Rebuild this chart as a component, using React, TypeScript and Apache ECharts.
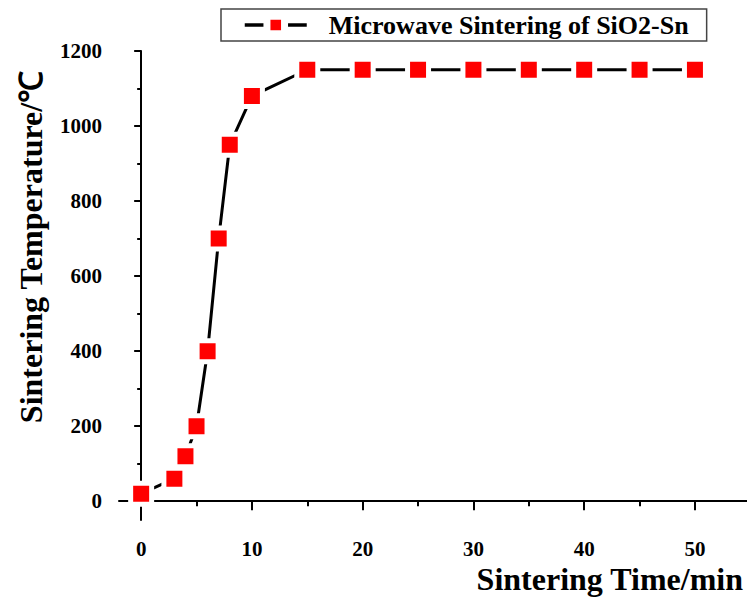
import React, { useEffect, useRef } from "react";
import * as echarts from "echarts";

const times = [0, 3, 4, 5, 6, 7, 8, 10, 15, 20, 25, 30, 35, 40, 45, 50];
const temps = [20, 60, 120, 200, 400, 700, 950, 1080, 1150, 1150, 1150, 1150, 1150, 1150, 1150, 1150];
const xMajor = [0, 10, 20, 30, 40, 50];
const xMinor = [5, 15, 25, 35, 45];
const yMajor = [0, 200, 400, 600, 800, 1000, 1200];
const yMinor = [100, 300, 500, 700, 900, 1100];
const seriesName = "Microwave Sintering of SiO2-Sn";
const xTitle = "Sintering Time/min";
const yTitle = "Sintering Temperature/℃";

const FONT = "'Liberation Serif', 'Times New Roman', serif";

export default function App() {
  const ref = useRef<HTMLDivElement>(null);
  useEffect(() => {
    if (!ref.current) return;
    const chart = echarts.init(ref.current, null, { renderer: "svg" });
    const X_MIN = -2, X_MAX = 54.7, Y_MIN = -50, Y_MAX = 1200;
    const axisLine = { show: true, lineStyle: { color: "#000", width: 2 } };
    const plain = (v: number) => String(v);
    chart.setOption({
      animation: false,
      backgroundColor: "#fff",
      grid: { left: 119, right: 0, top: 51, bottom: 78, containLabel: false },
      legend: {
        left: 221,
        top: 9,
        data: [seriesName],
        itemWidth: 62,
        itemHeight: 22,
        padding: [3, 18, 3, 22],
        borderColor: "#444",
        borderWidth: 1.5,
        itemStyle: { borderColor: "#fff", borderWidth: 7 },
        lineStyle: { width: 3.5 },
        textStyle: {
          fontFamily: FONT,
          fontWeight: "bold",
          fontSize: 26,
          color: "#000",
          padding: [0, 0, 0, 17],
        },
      },
      xAxis: [
        {
          type: "value",
          min: X_MIN,
          max: X_MAX,
          position: "bottom",
          axisLine,
          axisTick: { show: true, inside: false, length: 9, customValues: xMajor, lineStyle: { color: "#000", width: 2 } },
          axisLabel: {
            show: true,
            customValues: xMajor,
            formatter: plain,
            margin: 18,
            fontFamily: FONT,
            fontWeight: "bold",
            fontSize: 21,
            color: "#000",
          },
          splitLine: { show: false },
        },
        {
          type: "value",
          min: X_MIN,
          max: X_MAX,
          position: "bottom",
          axisLine: { show: false },
          axisTick: { show: true, inside: false, length: 5, customValues: xMinor, lineStyle: { color: "#000", width: 2 } },
          axisLabel: { show: false },
          splitLine: { show: false },
        },
      ],
      yAxis: [
        {
          type: "value",
          min: Y_MIN,
          max: Y_MAX,
          position: "left",
          axisLine,
          axisTick: { show: true, inside: false, length: 7, customValues: yMajor, lineStyle: { color: "#000", width: 2 } },
          axisLabel: {
            show: true,
            customValues: yMajor,
            formatter: plain,
            margin: 17,
            fontFamily: FONT,
            fontWeight: "bold",
            fontSize: 21,
            color: "#000",
          },
          splitLine: { show: false },
        },
        {
          type: "value",
          min: Y_MIN,
          max: Y_MAX,
          position: "left",
          axisLine: { show: false },
          axisTick: { show: true, inside: false, length: 4, customValues: yMinor, lineStyle: { color: "#000", width: 2 } },
          axisLabel: { show: false },
          splitLine: { show: false },
        },
      ],
      graphic: [
        {
          type: "text",
          x: 31,
          y: 247,
          rotation: Math.PI / 2,
          style: {
            text: yTitle,
            fontFamily: FONT,
            fontWeight: "bold",
            fontSize: 32,
            fill: "#000",
            textAlign: "center",
            textVerticalAlign: "middle",
          },
        },
        {
          type: "text",
          x: 743,
          y: 579,
          style: {
            text: xTitle,
            fontFamily: FONT,
            fontWeight: "bold",
            fontSize: 32,
            fill: "#000",
            textAlign: "right",
            textVerticalAlign: "middle",
          },
        },
      ],
      series: [
        {
          name: seriesName,
          type: "line",
          xAxisIndex: 0,
          yAxisIndex: 0,
          data: times.map((t, i) => [t, temps[i]]),
          symbol: "rect",
          symbolSize: 21,
          lineStyle: { color: "#000", width: 3 },
          itemStyle: { color: "#ff0000", borderColor: "#fff", borderWidth: 5 },
          z: 3,
        },
      ],
    });
    return () => chart.dispose();
  }, []);
  return (
    <div
      ref={ref}
      style={{ position: "fixed", left: 0, top: 0, width: 747, height: 598, background: "#fff" }}
    />
  );
}
